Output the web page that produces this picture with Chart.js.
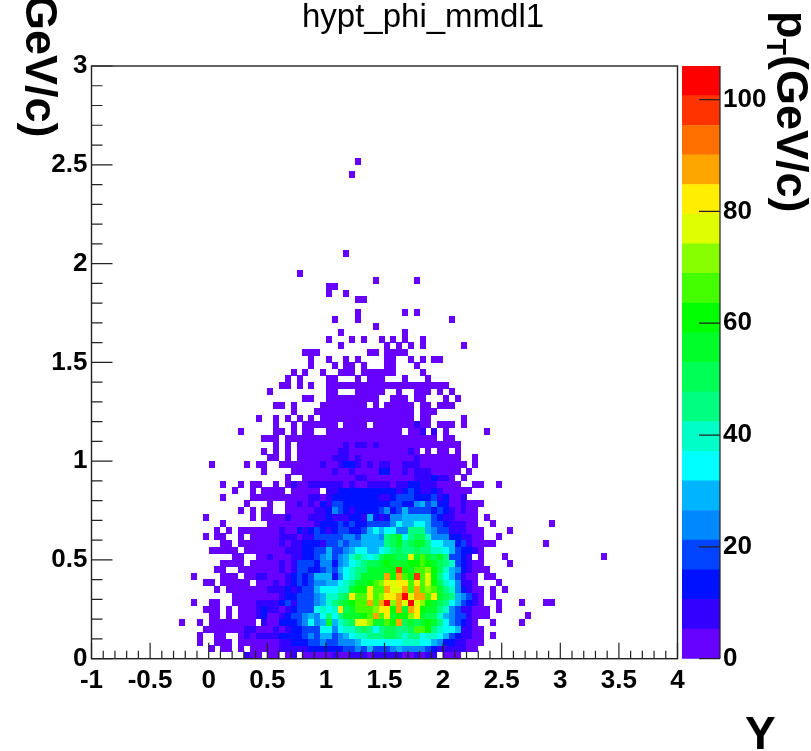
<!DOCTYPE html>
<html>
<head>
<meta charset="utf-8">
<title>hypt_phi_mmdl1</title>
<script src="https://cdn.jsdelivr.net/npm/chart.js@4/dist/chart.umd.js"></script>
<style>
    body { margin: 0; background: #fff; width: 811px; height: 751px; overflow: hidden; position: relative; }
    canvas { position: absolute; top: 0; }
    .txt { position: absolute; white-space: nowrap; font-family: "Liberation Sans", Arial, sans-serif; color: #000; }
    .rot { transform-origin: 0 0; transform: rotate(90deg); font-weight: bold; }
    sub { font-size: 60%; }
</style>
</head>
<body>
<canvas id="hist" width="811" height="751" style="left:0"></canvas>
<canvas id="palette" width="151" height="751" style="left:660px"></canvas>
<div class="txt" style="left:302px;top:-3px;font-size:33px">hypt_phi_mmdl1</div>
<div class="txt rot" style="left:67px;top:-20px;font-size:45px">(GeV/c)</div>
<div class="txt rot" style="left:818px;top:11px;font-size:45px">p<sub>T</sub>(GeV/c)</div>
<div class="txt" style="left:745px;top:706px;font-size:46px;font-weight:bold">Y</div>
<script>
// histogram rows, y bin 0 first. each char is the colour level of one cell, '.' = empty
// rowsLeft starts at x bin 15, rowsRight at x bin 41
const rowsLeft = [
    "...........100.00.01.00000",
    ".....0.00.0.00000111112222",
    "...0..000.0000000112223343",
    "...0..00..0101111222234355",
    "....0000000110001012233366",
    "0..0.00000000.10022234645a",
    ".....00.0.0001200123345468",
    "....000.0.0001211012333676",
    "..0..00..00001111231333457",
    ".........00000000122333457",
    "......0.000000011121233566",
    "....00.00000.0001012323445",
    "..0....000.001100012323555",
    "......00..0000000101332234",
    ".......0000.00000101333244",
    ".........00..0010001122345",
    ".....00000.000000011122335",
    ".......00.0000000101122213",
    "....0.00..0.00000111011333",
    "......0.0.0000000100212321",
    ".......0.......00000000122",
    "....0.......0.000010001112",
    "..........0.0.00..00000112",
    "...........0...0..00101021",
    ".......0....00000000001101",
    ".........0..0.0000.00000.1",
    ".......0..0.00..0.01001111",
    "..................0..00000",
    "..............0....0000000",
    ".....0.....0.00..000000010",
    "...............00.0.000000",
    "..............0.0.0.000000",
    "................0.0.000000",
    "..............000.00000000",
    "..........0.....00.0.00..0",
    "................0..0.00000",
    ".............0..0.0.0.0.00",
    "...................0...000",
    "................00.0....00",
    ".....................00..0",
    "...............0.........0",
    ".................00.0.0..0",
    "..................0.0....0",
    "...................0.0..0.",
    "......................0...",
    "......................0..0",
    ".....................000..",
    "..........................",
    ".........................0",
    ".........................."
];
const rowsRight = [
    "100111011111001011.000",
    "2233435333454444321111100",
    "34445666666677766542211000",
    "34567788899878867765321100.0",
    "46778986899889ccb876651100",
    "5789eedaacbg9a9aba8643210..0....0",
    "68aaabcgcfabbdfa99754331000......0",
    "7f9acccdffbgagfbaa874311000.0",
    "89abccgcgjdgejedba98653210..0...0...00",
    "789fccfcdffgjeggcfa9854310.0",
    "677abbfccgeegcgcdca8742100.0.0",
    "5678aabcdfeffcfceb9764110...0",
    "24678aaaagbgcbiceb8653100.00",
    "356788aaaabibaccdb975421000",
    "24567899abaaabbcba98732100....0",
    "345787679aa99eaca9a83321.0...0................0",
    "33456655678988988776532210",
    "34344555589a89aa866552310000........0",
    "33443555489a68997444221100..0",
    "23322356566448885433111000....0",
    "2323223333465566533211100..0.........0",
    "1112215212445555532110000.0",
    "4321222234235333323210100",
    "33222222223322453422001000",
    "22222222112333222312001",
    "122222222221232112100000",
    "1101001111011221110000..00..0",
    "000011000000001112110.0",
    "1001000022001011100000.0",
    "01221010110011100000000.0",
    "1110100000000010000000..0",
    "011000000000010.0.00.0",
    "0010110100000000000000",
    "000000000000000000.00",
    "000000000000.001.1.0......0",
    "0.0000.0000000100.000.0",
    "00000000000000.00.....0",
    "00000000000000.000",
    "000000.0.00000.00.000",
    "00000000..000.00...0.0",
    "0...00000..0..000.0.0",
    "00000000000000000000",
    "0...0.000...0...0",
    ".000.000000....0",
    "0.00.0...00...0",
    "..0.0....00..0.0.00",
    "......00.0000",
    ".0.......0.0.0.0......0",
    "...0.0..0.0.0..0",
    ".0..........0"
];
// lone cells above the rows, [x bin, y bin]
const topCells = [
    [48, 50], [41, 51], [45, 51], [61, 51], [45, 52], [53, 52], [55, 52],
    [45, 54], [46, 54], [40, 55], [43, 55], [40, 56], [41, 56],
    [48, 57], [55, 57], [35, 58], [43, 61], [44, 73], [45, 75]
];
const levelChars = "0123456789abcdefghij";
const paletteColors = [
    "#6600ff", "#3300ff", "#0011ff", "#0044ff", "#0088ff",
    "#00b4ff", "#00ffff", "#00ffc8", "#00ff80", "#00ff55",
    "#00ff2a", "#00ff00", "#44ff00", "#88ff00", "#ddff00",
    "#ffee00", "#ffa500", "#ff7000", "#ff3300", "#ff0000"
];
const xTicks = [-1, -0.5, 0, 0.5, 1, 1.5, 2, 2.5, 3, 3.5, 4];
const yTicks = [0, 0.5, 1, 1.5, 2, 2.5, 3];
const zTicks = [0, 20, 40, 60, 80, 100];
const Z_MAX = 106;
const LEVEL_STEP = Z_MAX / paletteColors.length;
const X_BIN = 0.05;
const Y_BIN = 3 / 90;
const LABEL_FONT = { family: '"Liberation Sans", Arial, sans-serif', size: 26, weight: 'bold' };

// x bins are 5.86px wide, y bins 6.59px high, so the point style is a small canvas, not 'rect'
const cellImages = paletteColors.map(col => {
    const c = document.createElement('canvas');
    c.width = 6;
    c.height = 7;
    const g = c.getContext('2d');
    g.fillStyle = col;
    g.fillRect(0, 0, 6, 7);
    return c;
});

const histCells = [];
const addCell = (col, row, level) => {
    histCells.push({
        x: -1 + (col + 0.5) * X_BIN,
        y: (row + 0.5) * Y_BIN,
        v: (level + 0.5) * LEVEL_STEP
    });
};
rowsLeft.forEach((s, row) => {
    [...s].forEach((ch, i) => { if (ch !== '.') addCell(15 + i, row, levelChars.indexOf(ch)); });
});
rowsRight.forEach((s, row) => {
    [...s].forEach((ch, i) => { if (ch !== '.') addCell(41 + i, row, levelChars.indexOf(ch)); });
});
topCells.forEach(([col, row]) => addCell(col, row, 0));

// ticks are drawn inside the frame, like ROOT does
const frameTicks = {
    id: 'frameTicks',
    afterDatasetsDraw(chart) {
        const { ctx, chartArea: a, scales: { x, y } } = chart;
        ctx.save();
        ctx.strokeStyle = '#222';
        ctx.lineWidth = 1.4;
        ctx.strokeRect(a.left, a.top, a.right - a.left, a.bottom - a.top);
        ctx.lineWidth = 1.2;
        ctx.beginPath();
        for (let i = 0; i <= 50; i++) {
            const px = x.getPixelForValue(-1 + i * 0.1);
            ctx.moveTo(px, a.bottom);
            ctx.lineTo(px, a.bottom - (i % 5 === 0 ? 16 : 8));
        }
        for (let i = 0; i <= 30; i++) {
            const py = y.getPixelForValue(i * 0.1);
            ctx.moveTo(a.left, py);
            ctx.lineTo(a.left + (i % 5 === 0 ? 21 : 11), py);
        }
        ctx.stroke();
        ctx.restore();
    }
};

new Chart(document.getElementById('hist'), {
    type: 'scatter',
    data: {
        datasets: [{
            data: histCells,
            pointStyle: c => cellImages[Math.floor(c.raw.v / LEVEL_STEP)],
            pointRadius: 3
        }]
    },
    options: {
        responsive: false,
        animation: false,
        events: [],
        layout: { padding: { top: 66, right: 133.5, left: 0, bottom: 0 } },
        plugins: { legend: { display: false }, tooltip: { enabled: false } },
        scales: {
            x: {
                type: 'linear', min: -1, max: 4,
                afterBuildTicks: s => { s.ticks = xTicks.map(value => ({ value })); },
                afterFit: s => { s.height = 92.3; },
                grid: { display: false, drawTicks: false }, border: { display: false },
                ticks: { font: LABEL_FONT, color: '#000', padding: 7, maxRotation: 0, autoSkip: false, callback: v => String(v) }
            },
            y: {
                type: 'linear', min: 0, max: 3,
                afterBuildTicks: s => { s.ticks = yTicks.map(value => ({ value })); },
                afterFit: s => { s.width = 91.5; },
                grid: { display: false, drawTicks: false }, border: { display: false },
                ticks: { font: LABEL_FONT, color: '#000', padding: 4, autoSkip: false, callback: v => String(v) }
            }
        }
    },
    plugins: [frameTicks]
});

const paletteTicks = {
    id: 'paletteTicks',
    afterDatasetsDraw(chart) {
        const { ctx, chartArea: a, scales: { y } } = chart;
        ctx.save();
        ctx.strokeStyle = '#222';
        ctx.lineWidth = 1.2;
        ctx.beginPath();
        ctx.moveTo(a.right, a.top);
        ctx.lineTo(a.right, a.bottom);
        zTicks.forEach(t => {
            const py = y.getPixelForValue(t);
            ctx.moveTo(a.right, py);
            ctx.lineTo(a.right - 21, py);
        });
        ctx.stroke();
        ctx.restore();
    }
};

new Chart(document.getElementById('palette'), {
    type: 'bar',
    data: {
        labels: ['z'],
        datasets: paletteColors.map(col => ({
            data: [LEVEL_STEP],
            backgroundColor: col,
            borderWidth: 0,
            barPercentage: 1,
            categoryPercentage: 1
        }))
    },
    options: {
        responsive: false,
        animation: false,
        events: [],
        layout: { padding: { top: 66, left: 22, right: 0, bottom: 92.3 } },
        plugins: { legend: { display: false }, tooltip: { enabled: false } },
        scales: {
            x: { stacked: true, display: false },
            y: {
                stacked: true, position: 'right', min: 0, max: Z_MAX,
                afterBuildTicks: s => { s.ticks = zTicks.map(value => ({ value })); },
                afterFit: s => { s.width = 91; },
                grid: { display: false, drawTicks: false }, border: { display: false },
                ticks: { font: LABEL_FONT, color: '#000', padding: 3, autoSkip: false }
            }
        }
    },
    plugins: [paletteTicks]
});
</script>
</body>
</html>
